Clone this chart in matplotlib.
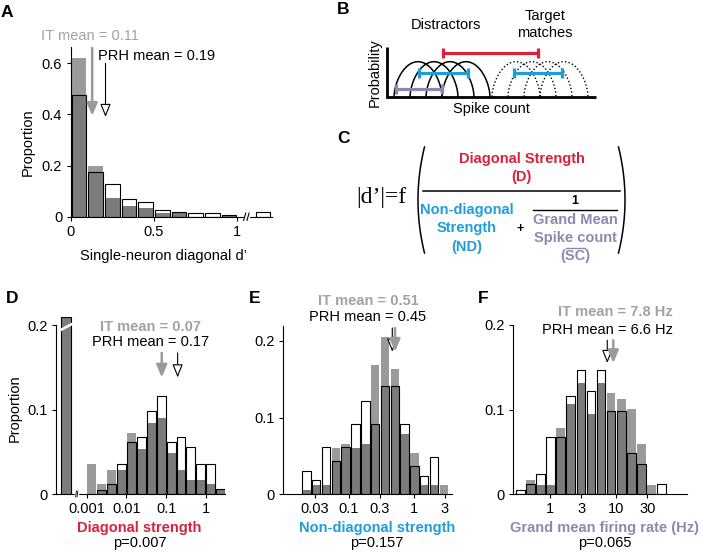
import numpy as np
import matplotlib
matplotlib.use('Agg')
import matplotlib.pyplot as plt

plt.rcParams['font.family'] = ['Liberation Sans', 'DejaVu Sans']

W, H = 701, 553

# colours
IT_GRAY = '#9a9a9a'
OVERLAP_GRAY = '#7b7b7b'
TEXT_GRAY = '#a2a2a2'
RED = '#d8213b'
BLUE = '#1f9dd8'
PURPLE = '#8b8aae'

# ---- Panel A: single-neuron diagonal d' (last bin is past the axis break)
a_bins = [0.05, 0.15, 0.25, 0.35, 0.45, 0.55, 0.65, 0.75, 0.85, 0.95, 1.155]
a_it = [0.62, 0.20, 0.072, 0.042, 0.033, 0.013, 0.016, 0.0, 0.0, 0.007, 0.0]
a_prh = [0.475, 0.175, 0.128, 0.068, 0.056, 0.025, 0.02, 0.013, 0.013, 0.007, 0.02]
a_arrow_x = {'IT': 0.13, 'PRH': 0.21}

# ---- Panel D: diagonal strength (log10 bin centres), plus the zero bin
d_bins = [-2.875, -2.625, -2.375, -2.125, -1.875, -1.625, -1.375,
          -1.125, -0.875, -0.625, -0.375, -0.125, 0.125, 0.375]
d_it = [0.036, 0.0115, 0.029, 0.029, 0.072, 0.053, 0.084,
        0.090, 0.048, 0.029, 0.017, 0.017, 0.0115, 0.006]
d_prh = [0.0, 0.005, 0.012, 0.036, 0.061, 0.067, 0.098,
         0.116, 0.061, 0.067, 0.056, 0.036, 0.036, 0.006]
d_zero_bin = -3.52
d_zero_it = 0.209
d_zero_prh = 0.209
d_arrow_x = {'IT': -1.11, 'PRH': -0.71}

# ---- Panel E: non-diagonal strength (log10 bin centres)
e_bins = [-1.655, -1.504, -1.353, -1.202, -1.051, -0.900, -0.749, -0.598,
          -0.447, -0.296, -0.145, 0.006, 0.157, 0.308, 0.459]
e_it = [0.0057, 0.012, 0.012, 0.060, 0.066, 0.060, 0.066, 0.169,
        0.205, 0.163, 0.078, 0.054, 0.012, 0.012, 0.012]
e_prh = [0.0305, 0.018, 0.061, 0.043, 0.061, 0.092, 0.122, 0.092,
         0.141, 0.141, 0.092, 0.037, 0.024, 0.049, 0.0]
e_arrow_x = {'IT': -0.292, 'PRH': -0.334}

# ---- Panel F: grand mean firing rate (log10 Hz bin centres)
f_bins = [-0.450, -0.297, -0.144, 0.009, 0.162, 0.315, 0.468, 0.621,
          0.774, 0.927, 1.080, 1.233, 1.386, 1.539, 1.692]
f_it = [0.0, 0.017, 0.011, 0.011, 0.078, 0.107, 0.131, 0.095,
        0.131, 0.119, 0.113, 0.101, 0.059, 0.011, 0.0]
f_prh = [0.005, 0.012, 0.024, 0.067, 0.067, 0.116, 0.147, 0.122,
         0.147, 0.098, 0.098, 0.049, 0.036, 0.0, 0.012]
f_arrow_x = {'IT': 0.959, 'PRH': 0.868}

# ---- Panel B schematic (pixel positions of the tuning bumps)
distractor_centers = [418, 434, 450, 466]
target_centers = [516, 532, 548, 564]

fig = plt.figure(figsize=(W / 100, H / 100), dpi=100)


def px_axes(left, top, right, bottom):
    return fig.add_axes([left / W, 1 - bottom / H, (right - left) / W, (bottom - top) / H])


def style(ax):
    for s in ['top', 'right']:
        ax.spines[s].set_visible(False)
    for s in ['left', 'bottom']:
        ax.spines[s].set_linewidth(0.8)
    ax.tick_params(direction='out', length=3, width=0.8, labelsize=10.5, pad=3)
    ax.set_facecolor('none')


def draw_hist(ax, centers, it, prh, width):
    centers = np.asarray(centers, float)
    it = np.asarray(it, float)
    prh = np.asarray(prh, float)
    ax.bar(centers, it, width, color=IT_GRAY, linewidth=0, zorder=2)
    ax.bar(centers, prh, width, color='white', linewidth=0, zorder=2)
    ax.bar(centers, np.minimum(it, prh), width, color=OVERLAP_GRAY, linewidth=0, zorder=2)
    has = prh > 0
    ax.bar(centers[has], prh[has], width, fill=False, edgecolor='black',
           linewidth=0.8, zorder=3)


def mean_arrow(ax, x, y_tail, y_tip, which):
    if which == 'IT':
        props = dict(arrowstyle='-|>,head_length=0.75,head_width=0.32',
                     color=IT_GRAY, lw=1.8, shrinkA=0, shrinkB=0, mutation_scale=10)
    else:
        props = dict(arrowstyle='-|>,head_length=0.8,head_width=0.32',
                     fc='white', ec='black', lw=0.8, shrinkA=0, shrinkB=0, mutation_scale=10)
    ax.annotate('', xy=(x, y_tip), xytext=(x, y_tail), arrowprops=props,
                annotation_clip=False, zorder=6)


def axis_break(ax, x, dx, dy, lw=0.8):
    ax.plot([x - dx, x + dx], [0, 0], color='white', lw=2.5, clip_on=False, zorder=5)
    for off in (-dx, dx):
        ax.plot([x + off - dx * 0.6, x + off + dx * 0.6], [-dy, dy], color='black',
                lw=lw, clip_on=False, zorder=6)


# ---------------- Panel A
axA = px_axes(70.5, 46.7, 272.2, 216.7)
style(axA)
draw_hist(axA, a_bins, a_it, a_prh, 0.088)
axA.set_xlim(0, 1.21)
axA.set_ylim(0, 0.665)
axA.set_xticks([0, 0.5, 1])
axA.set_xticklabels(['0', '0.5', '1'])
axA.set_yticks([0, 0.2, 0.4, 0.6])
axA.set_yticklabels(['0', '0.2', '0.4', '0.6'])
axis_break(axA, 1.055, 0.01, 0.014)
mean_arrow(axA, a_arrow_x['PRH'], 0.60, 0.39, 'PRH')
mean_arrow(axA, a_arrow_x['IT'], 0.66, 0.395, 'IT')

# ---------------- Panel D
axD = px_axes(56.1, 316.6, 224.9, 494)
style(axD)
draw_hist(axD, d_bins, d_it, d_prh, 0.225)
draw_hist(axD, [d_zero_bin], [d_zero_it], [d_zero_prh], 0.24)
# break in the off-scale zero bin
axD.plot([d_zero_bin - 0.14, d_zero_bin + 0.14], [0.194, 0.201], color='white',
         lw=1.8, zorder=4, clip_on=False)
axD.set_xlim(-3.77, 0.48)
axD.set_ylim(0, 0.21)
axD.spines['left'].set_bounds(0, 0.2)
axD.set_xticks([-3, -2, -1, 0])
axD.set_xticklabels(['0.001', '0.01', '0.1', '1'])
axD.set_yticks([0, 0.1, 0.2])
axD.set_yticklabels(['0', '0.1', '0.2'])
axis_break(axD, -3.25, 0.018, 0.0035, lw=0.6)
mean_arrow(axD, d_arrow_x['PRH'], 0.167, 0.138, 'PRH')
mean_arrow(axD, d_arrow_x['IT'], 0.167, 0.138, 'IT')

# ---------------- Panel E
axE = px_axes(283.3, 325.7, 451.7, 494)
style(axE)
draw_hist(axE, e_bins, e_it, e_prh, 0.13)
axE.set_xlim(-2.01, 0.58)
axE.set_ylim(0, 0.22)
e_ticks = [0.03, 0.1, 0.3, 1, 3]
axE.set_xticks(np.log10(e_ticks))
axE.set_xticklabels(['0.03', '0.1', '0.3', '1', '3'])
axE.set_yticks([0, 0.1, 0.2])
axE.set_yticklabels(['0', '0.1', '0.2'])
mean_arrow(axE, e_arrow_x['PRH'], 0.217, 0.186, 'PRH')
mean_arrow(axE, e_arrow_x['IT'], 0.217, 0.186, 'IT')

# ---------------- Panel F
axF = px_axes(513.3, 325, 686.6, 494)
style(axF)
draw_hist(axF, f_bins, f_it, f_prh, 0.13)
axF.set_xlim(-0.556, 2.07)
axF.set_ylim(0, 0.2)
f_ticks = [1, 3, 10, 30]
axF.set_xticks(np.log10(f_ticks))
axF.set_xticklabels(['1', '3', '10', '30'])
axF.set_yticks([0, 0.1, 0.2])
axF.set_yticklabels(['0', '0.1', '0.2'])
mean_arrow(axF, f_arrow_x['PRH'], 0.182, 0.155, 'PRH')
mean_arrow(axF, f_arrow_x['IT'], 0.182, 0.155, 'IT')

# ---------------- overlay in pixel coordinates for text and schematics
ov = fig.add_axes([0, 0, 1, 1])
ov.set_xlim(0, W)
ov.set_ylim(H, 0)
ov.axis('off')

fs = 10.5
for letter, x, y in [('A', 6.7, 12.7), ('B', 343.3, 10), ('C', 343.3, 138.3),
                     ('D', 11.7, 298.3), ('E', 255, 298.3), ('F', 483.3, 298.3)]:
    ov.text(x, y, letter, fontsize=12.5, fontweight='bold', ha='center', va='center')

# A labels
ov.text(40.7, 36, 'IT mean = 0.11', color=TEXT_GRAY, fontsize=fs, ha='left', va='center')
ov.text(98, 56, 'PRH mean = 0.19', color='black', fontsize=fs, ha='left', va='center')
ov.text(27.3, 141.7, 'Proportion', fontsize=fs, rotation=90, ha='center', va='center')
ov.text(164, 256, 'Single-neuron diagonal d\u2019', fontsize=fs, ha='center', va='center')

# D/E/F labels
ov.text(15, 408.3, 'Proportion', fontsize=fs, rotation=90, ha='center', va='center')
ov.text(150.5, 327, 'IT mean = 0.07', color=TEXT_GRAY, fontsize=fs, fontweight='bold',
        ha='center', va='center')
ov.text(150.5, 341.7, 'PRH mean = 0.17', fontsize=fs, ha='center', va='center')
ov.text(368, 300.7, 'IT mean = 0.51', color=TEXT_GRAY, fontsize=fs, fontweight='bold',
        ha='center', va='center')
ov.text(368, 316.7, 'PRH mean = 0.45', fontsize=fs, ha='center', va='center')
ov.text(673, 311.7, 'IT mean = 7.8 Hz', color=TEXT_GRAY, fontsize=fs, fontweight='bold',
        ha='right', va='center')
ov.text(673, 330, 'PRH mean = 6.6 Hz', fontsize=fs, ha='right', va='center')

ov.text(139.5, 528, 'Diagonal strength', color=RED, fontsize=fs, fontweight='bold',
        ha='center', va='center')
ov.text(139.5, 543, 'p=0.007', fontsize=fs, ha='center', va='center')
ov.text(377, 528, 'Non-diagonal strength', color=BLUE, fontsize=fs, fontweight='bold',
        ha='center', va='center')
ov.text(377, 543, 'p=0.157', fontsize=fs, ha='center', va='center')
ov.text(605, 528, 'Grand mean firing rate (Hz)', color=PURPLE, fontsize=fs,
        fontweight='bold', ha='center', va='center')
ov.text(605, 543, 'p=0.065', fontsize=fs, ha='center', va='center')

# ---------------- Panel B schematic
base_y = 96.7
bump_h = 35
bump_w = 24
t = np.linspace(-1, 1, 121)
for c in distractor_centers:
    ov.plot(c + bump_w * t, base_y - bump_h * (1 - t ** 2) ** 0.6, color='black', lw=1.1)
for c in target_centers:
    ov.plot(c + bump_w * t, base_y - bump_h * (1 - t ** 2) ** 0.6, color='black', lw=1.0,
            linestyle=(0, (1, 1.6)))
ov.plot([386.7, 386.7, 596], [46.7, base_y, base_y], color='black', lw=2,
        solid_capstyle='butt', solid_joinstyle='miter')


def bracket(x0, x1, y, color):
    ov.plot([x0, x1], [y, y], color=color, lw=2.3, solid_capstyle='butt')
    for x in (x0, x1):
        ov.plot([x, x], [y - 5, y + 5], color=color, lw=2.3, solid_capstyle='butt')


bracket(np.mean(distractor_centers) + 1, np.mean(target_centers) - 2, 53.3, RED)
bracket(distractor_centers[0] + 1, distractor_centers[-1] + 1.5, 72.7, BLUE)
bracket(target_centers[0] - 2.5, target_centers[-1] - 2, 72.7, BLUE)
bracket(395.7, np.mean(distractor_centers), 89.3, PURPLE)

ov.text(445.7, 25, 'Distractors', fontsize=fs, ha='center', va='center')
ov.text(545, 15.7, 'Target', fontsize=fs, ha='center', va='center')
ov.text(545, 33.3, 'matches', fontsize=fs, ha='center', va='center')
ov.text(375, 73, 'Probability', fontsize=fs, rotation=90, ha='center', va='center')
ov.text(491.7, 108.5, 'Spike count', fontsize=fs, ha='center', va='center')

# ---------------- Panel C formula
ov.text(381.5, 197, '|d\u2019|=f', fontsize=17, family='Liberation Serif',
        ha='center', va='center')
ty = np.linspace(-1, 1, 80)
ov.plot(424.5 - 6.5 * (1 - ty ** 2), 200 + 53 * ty, color='black', lw=1.1)
ov.plot(618.5 + 6.5 * (1 - ty ** 2), 200 + 53 * ty, color='black', lw=1.1)
ov.text(521.7, 159, 'Diagonal Strength', color=RED, fontsize=fs, fontweight='bold',
        ha='center', va='center')
ov.text(521.7, 177.5, '(D)', color=RED, fontsize=fs, fontweight='bold', ha='center', va='center')
ov.plot([423, 620], [191, 191], color='black', lw=1.1)
for txt, y in [('Non-diagonal', 210), ('Strength', 228.3), ('(ND)', 246.7)]:
    ov.text(466.7, y, txt, color=BLUE, fontsize=fs, fontweight='bold', ha='center', va='center')
ov.text(520, 229, '+', fontsize=9, fontweight='bold', ha='center', va='center')
ov.text(575, 201.5, '1', fontsize=9, fontweight='bold', ha='center', va='center')
ov.plot([533, 617], [210, 210], color='black', lw=1.0)
for txt, y in [('Grand Mean', 220), ('Spike count', 238.3), ('(SC)', 256)]:
    ov.text(575, y, txt, color=PURPLE, fontsize=fs, fontweight='bold', ha='center', va='center')
ov.plot([566, 585], [248, 248], color=PURPLE, lw=1.0)

fig.savefig('out.png', dpi=100, facecolor='white')
print('saved out.png')
